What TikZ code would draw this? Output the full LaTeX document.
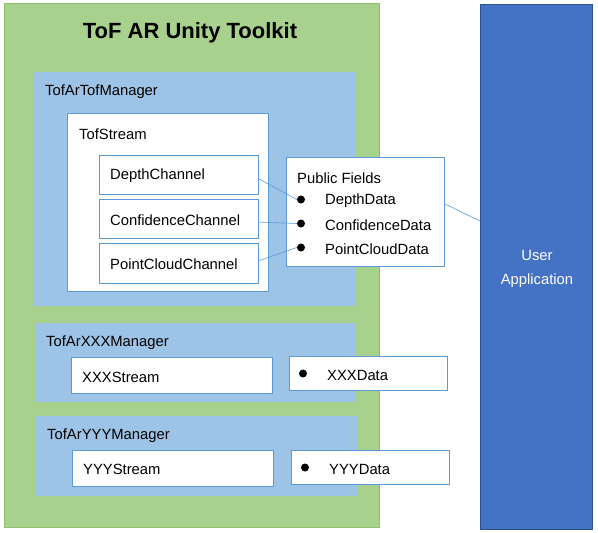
\documentclass[tikz,border=0pt]{standalone}
\usepackage{fontspec}
\setmainfont{Liberation Sans}
\definecolor{kitgreen}{HTML}{A9D18E}
\definecolor{kitline}{HTML}{8CC06C}
\definecolor{mgrblue}{HTML}{9DC3E6}
\definecolor{boxline}{HTML}{5B9BD5}
\definecolor{appblue}{HTML}{4472C4}
\definecolor{appline}{HTML}{2F528F}
\tikzset{
  wbox/.style={draw=boxline, line width=1.2pt, fill=white, anchor=north west, inner sep=0pt},
  mgr/.style={fill=mgrblue, anchor=north west, inner sep=0pt},
  txt/.style={anchor=west, inner sep=0pt, yshift=-2pt, font=\fontsize{14.8}{17}\selectfont},
  dot/.style={circle, fill=black, inner sep=0pt, minimum size=8pt},
  link/.style={draw=boxline, line width=0.6pt}
}
\begin{document}
\begin{tikzpicture}[x=1pt,y=-1pt]
\useasboundingbox (0,0) rectangle (598,533);

%Toolkit
\node[fill=kitgreen, draw=kitline, anchor=north west, inner sep=0pt, minimum width=375, minimum height=524] (kit) at (4,3) {};
\node[font=\bfseries\fontsize{22}{26}\selectfont] (title) at (190,33) {ToF AR Unity Toolkit};

%TofArTofManager
\node[mgr, minimum width=322, minimum height=234] (tofmgr) at (34,72) {};
\node[txt] (tofmgrtxt) at (45,90) {TofArTofManager};
\node[wbox, minimum width=201, minimum height=178] (stream) at (67,113) {};
\node[txt] (streamtxt) at (79,132) {TofStream};
\node[wbox, minimum width=159, minimum height=39] (depth) at (99,155) {};
\node[txt] (depthtxt) at (110,174) {DepthChannel};
\node[wbox, minimum width=159, minimum height=39] (conf) at (99,199) {};
\node[txt] (conftxt) at (110,218) {ConfidenceChannel};
\node[wbox, minimum width=159, minimum height=40] (cloud) at (99,243) {};
\node[txt] (cloudtxt) at (110,262) {PointCloudChannel};

%Public fields
\node[wbox, minimum width=158, minimum height=109] (fields) at (286,157) {};
\node[txt] (fieldstxt) at (297,176) {Public Fields};
\node[dot] (d1) at (301,199.5) {};
\node[dot] (d2) at (301,223.5) {};
\node[dot] (d3) at (301,247.5) {};
\node[txt] (d1txt) at (325,199) {DepthData};
\node[txt] (d2txt) at (325,223) {ConfidenceData};
\node[txt] (d3txt) at (325,247) {PointCloudData};

%TofArXXXManager
\node[mgr, minimum width=321, minimum height=79] (xmgr) at (35,323) {};
\node[txt] (xmgrtxt) at (46,341) {TofArXXXManager};
\node[wbox, minimum width=201, minimum height=36] (xstream) at (71,357) {};
\node[txt] (xstreamtxt) at (82,375) {XXXStream};
\node[wbox, minimum width=158, minimum height=34] (xdata) at (289,356) {};
\node[dot] (xd) at (303,373.5) {};
\node[txt] (xdtxt) at (327,373) {XXXData};

%TofArYYYManager
\node[mgr, minimum width=321, minimum height=80] (ymgr) at (36,416) {};
\node[txt] (ymgrtxt) at (47,434) {TofArYYYManager};
\node[wbox, minimum width=201, minimum height=36] (ystream) at (72,450) {};
\node[txt] (ystreamtxt) at (83,467) {YYYStream};
\node[wbox, minimum width=158, minimum height=34] (ydata) at (291,450) {};
\node[dot] (yd) at (305,467.5) {};
\node[txt] (ydtxt) at (329,467) {YYYData};

%User application
\node[fill=appblue, draw=appline, line width=1pt, anchor=north west, inner sep=0pt, minimum width=112, minimum height=525] (app) at (480,4) {};
\node[text=white, align=center, font=\fontsize{14.8}{24}\selectfont] (apptxt) at (537,269) {User\\Application};
\coordinate (appin) at (480,221);

%Links
\draw[link] ([yshift=-4pt]depth.east) -- (d1.west);
\draw[link] ([yshift=-3pt]conf.east) -- (d2.west);
\draw[link] ([yshift=3pt]cloud.east) -- (d3.west);
\draw[link] ([yshift=8pt]fields.east) -- (appin);

\end{tikzpicture}
\end{document}
